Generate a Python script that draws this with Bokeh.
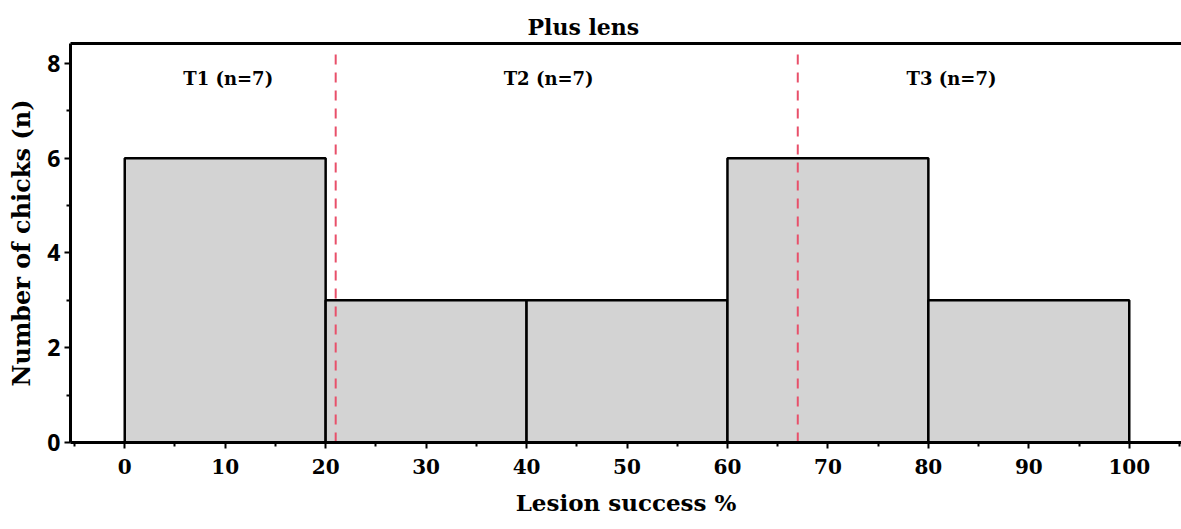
from bokeh.plotting import figure
from bokeh.models import Range1d, FixedTicker, Label, ColumnDataSource, Title, LinearAxis
from bokeh.embed import file_html
from bokeh.resources import INLINE

# Data
bin_left = [0, 20, 40, 60, 80]
bin_right = [20, 40, 60, 80, 100]
counts = [6, 3, 3, 6, 3]
tercile_bounds = [21, 67]
group_labels = ["T1 (n=7)", "T2 (n=7)", "T3 (n=7)"]
group_label_x = [10.3, 42.2, 82.3]
group_label_y = [7.68, 7.68, 7.68]
x_ticks = [0, 10, 20, 30, 40, 50, 60, 70, 80, 90, 100]
y_ticks = [0, 2, 4, 6, 8]

SERIF = "DejaVu Serif"

p = figure(width=1181, height=529, output_backend="svg", toolbar_location=None,
           x_range=Range1d(-5.4, 105.2), y_range=Range1d(0, 8.42),
           min_border_left=70, min_border_right=0, min_border_top=43, min_border_bottom=87)
p.grid.visible = False
p.background_fill_color = "white"
p.outline_line_color = None

# top frame line (no right border, as in the reference)
top = LinearAxis(ticker=FixedTicker(ticks=[]), major_tick_out=0, major_tick_in=0,
                 minor_tick_out=0, minor_tick_in=0, major_label_text_font_size="0px",
                 axis_line_width=3, axis_line_color="black", major_label_standoff=0)
p.add_layout(top, "above")

# title
p.add_layout(Title(text="Plus lens", align="left", offset=457, standoff=8,
                   text_font=SERIF, text_font_style="bold", text_font_size="22px",
                   text_color="black"), "above")

# bars
src = ColumnDataSource(dict(left=bin_left, right=bin_right, top=counts, bottom=[0]*len(counts)))
p.quad(left="left", right="right", top="top", bottom="bottom", source=src,
       fill_color="#d3d3d3", line_color="black", line_width=2.5)

# tercile boundaries
p.segment(x0=tercile_bounds, x1=tercile_bounds, y0=[0]*2, y1=[8.25]*2,
          line_color="#e8506a", line_width=2, line_dash="10 8")

# group labels
for t, gx, gy in zip(group_labels, group_label_x, group_label_y):
    p.add_layout(Label(x=gx, y=gy, text=t, text_align="center", text_baseline="middle",
                       text_font=SERIF, text_font_style="bold", text_font_size="18px",
                       text_color="black"))

# x axis
xa = p.xaxis[0] if p.below else None
xa = p.below[0]
xa.ticker = FixedTicker(ticks=x_ticks, minor_ticks=[-5, 5, 15, 25, 35, 45, 55, 65, 75, 85, 95, 105])
xa.axis_label = "Lesion success %"
xa.axis_label_text_font = SERIF
xa.axis_label_text_font_style = "bold"
xa.axis_label_text_font_size = "23px"
xa.axis_label_text_color = "black"
xa.axis_label_standoff = 12
xa.major_label_text_font = SERIF
xa.major_label_text_font_style = "bold"
xa.major_label_text_font_size = "20px"
xa.major_label_text_color = "black"
xa.major_label_standoff = 10
xa.axis_line_width = 3
xa.axis_line_color = "black"
xa.major_tick_out = 6
xa.major_tick_in = 0
xa.minor_tick_out = 4
xa.minor_tick_in = 0
xa.major_tick_line_width = 2
xa.minor_tick_line_width = 2

# y axis
ya = p.left[0]
ya.ticker = FixedTicker(ticks=y_ticks, minor_ticks=[1, 3, 5, 7])
ya.axis_label = "Number of chicks (n)"
ya.axis_label_text_font = SERIF
ya.axis_label_text_font_style = "bold"
ya.axis_label_text_font_size = "24px"
ya.axis_label_text_color = "black"
ya.axis_label_standoff = 8
ya.major_label_text_font = "Open Sans"
ya.major_label_text_font_style = "bold"
ya.major_label_text_font_size = "23px"
ya.major_label_text_color = "black"
ya.major_label_standoff = 4
ya.axis_line_width = 3
ya.axis_line_color = "black"
ya.major_tick_out = 6
ya.major_tick_in = 0
ya.minor_tick_out = 4
ya.minor_tick_in = 0
ya.major_tick_line_width = 2
ya.minor_tick_line_width = 2

open("out.html", "w").write(file_html(p, INLINE))
